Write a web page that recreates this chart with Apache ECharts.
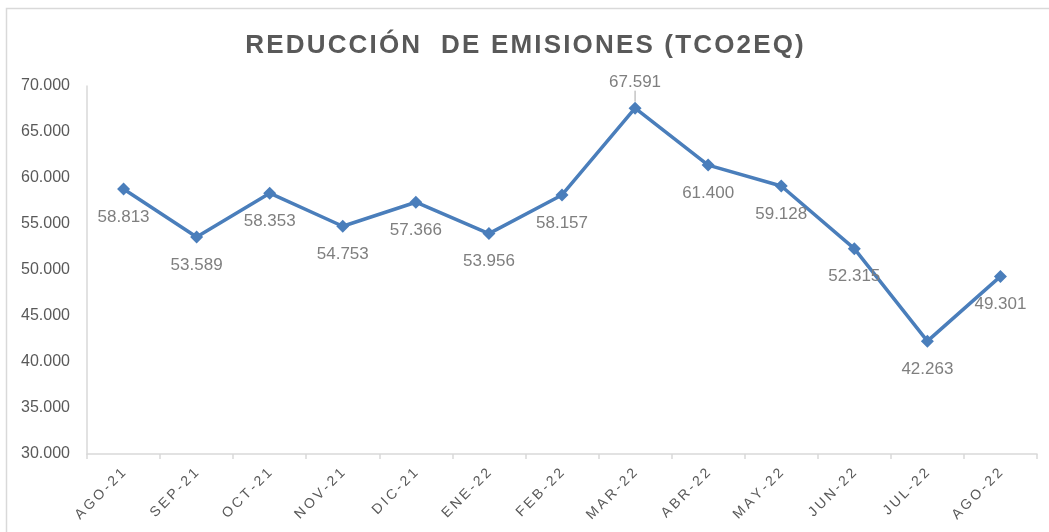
<!DOCTYPE html>
<html>
<head>
<meta charset="utf-8">
<script src="https://cdn.jsdelivr.net/npm/echarts@6/dist/echarts.min.js"></script>
<style>html,body{margin:0;padding:0;background:#fff;}#c{width:1049px;height:532px;}</style>
</head>
<body>
<div id="c"></div>
<script>
var categories = ['AGO-21','SEP-21','OCT-21','NOV-21','DIC-21','ENE-22','FEB-22','MAR-22','ABR-22','MAY-22','JUN-22','JUL-22','AGO-22'];
var values = [58813, 53589, 58353, 54753, 57366, 53956, 58157, 67591, 61400, 59128, 52315, 42263, 49301];
var yTicks = [30000, 35000, 40000, 45000, 50000, 55000, 60000, 65000, 70000];
var titleText = 'REDUCCIÓN  DE EMISIONES (TCO2EQ)';

function fmt(v) {
  return String(Math.round(v)).replace(/\B(?=(\d{3})+(?!\d))/g, '.');
}
function spaced(s, sp) {
  return s.split('').join(sp);
}
var chart = echarts.init(document.getElementById('c'), null, {renderer: 'canvas'});
var font = 'Liberation Sans';
var seriesData = values.map(function (v, i) {
  if (i === 7) {
    return {value: v, label: {position: 'top', distance: 6}, labelLine: {show: true, lineStyle: {color: '#a6a6a6', width: 1}}};
  }
  return v;
});
chart.setOption({
  animation: false,
  graphic: [{
    type: 'rect', left: 4, top: 6, shape: {width: 1060, height: 540},
    style: {fill: 'none', stroke: '#d9d9d9', lineWidth: 1.5}, silent: true, z: -1
  }],
  title: {
    text: spaced(titleText, '\u200A'),
    left: 'center', top: 28,
    textStyle: {fontFamily: font, fontWeight: 'bold', fontSize: 26, color: '#595959'}
  },
  grid: {left: 87, right: 12, top: 86, bottom: 78, containLabel: false},
  xAxis: {
    type: 'category', data: categories, boundaryGap: true,
    axisLine: {show: true, lineStyle: {color: '#d9d9d9', width: 1.5}},
    axisTick: {show: true, length: 5, lineStyle: {color: '#d9d9d9', width: 1.5}},
    axisLabel: {
      rotate: 45, margin: 17, color: '#595959', fontFamily: font, fontSize: 14,
      formatter: function (v) { return spaced(v, '\u2009'); }
    },
    splitLine: {show: false}
  },
  yAxis: {
    type: 'value', min: yTicks[0], max: yTicks[yTicks.length - 1], interval: yTicks[1] - yTicks[0],
    axisLine: {show: true, lineStyle: {color: '#d9d9d9', width: 1.5}},
    axisTick: {show: false},
    splitLine: {show: false},
    axisLabel: {margin: 17, color: '#595959', fontFamily: font, fontSize: 16, formatter: fmt}
  },
  series: [{
    type: 'line', data: seriesData,
    symbol: 'diamond', symbolSize: 13,
    lineStyle: {color: '#4a7ebb', width: 3.5},
    itemStyle: {color: '#4a7ebb'},
    label: {
      show: true, position: 'bottom', distance: 13,
      color: '#7f7f7f', fontFamily: font, fontSize: 17,
      formatter: function (p) { return fmt(p.value); }
    },
    labelLayout: function (p) { return p.dataIndex === 7 ? {dy: -5} : {}; }
  }]
});
</script>
</body>
</html>
